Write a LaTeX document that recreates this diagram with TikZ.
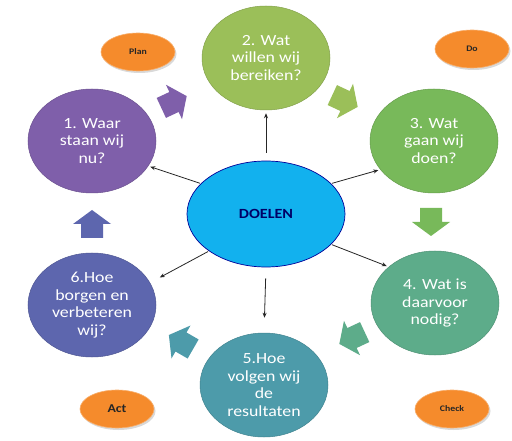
\documentclass[tikz,border=0pt]{standalone}
\usepackage{fontspec}
\setmainfont{Carlito}[FakeStretch=1.15]
\usetikzlibrary{shapes.geometric,arrows.meta,shadows}
\definecolor{cA}{HTML}{7F5FAA}
\definecolor{cB}{HTML}{9BBF59}
\definecolor{cC}{HTML}{78B95A}
\definecolor{cD}{HTML}{5DAC8A}
\definecolor{cE}{HTML}{4D9BAA}
\definecolor{cF}{HTML}{5D66AE}
\definecolor{cDoel}{HTML}{12B1EE}
\definecolor{cOr}{HTML}{F58B2C}
\begin{document}
\begin{tikzpicture}[x=1pt,y=-1pt,
  circ/.style={ellipse, fill=#1, draw=#1!85!black, line width=0.5pt,
    minimum width=128pt, minimum height=104pt, inner sep=0pt,
    text=white, font=\fontsize{15.5}{17.5}\selectfont, align=center},
  tag/.style={ellipse, fill=cOr, draw=cOr!70!white, line width=0.6pt,
    minimum width=74pt, minimum height=38pt, inner sep=0pt,
    text=black!85, font=\bfseries\fontsize{8.5}{10}\selectfont,
    drop shadow={shadow xshift=1.5pt, shadow yshift=-2pt, fill=gray!30, opacity=1}},
  conn/.style={draw=black!85, line width=0.8pt, -{Stealth[length=5pt,width=4pt]}},
  barrow/.pic={\fill[#1] (-14,-11) -- (0,-11) -- (0,-19) -- (14,0) -- (0,19) -- (0,11) -- (-14,11) -- cycle;}
]
\useasboundingbox (0,0) rectangle (512,441);
\fill[white] (0,0) rectangle (512,441);

% central
\node[ellipse, fill=cDoel, draw=blue!60!black, line width=0.7pt,
  minimum width=158pt, minimum height=106pt, inner sep=0pt,
  text=blue!40!black, font=\bfseries\fontsize{14}{16}\selectfont] (D) at (266,214) {DOELEN};

% circles
\node[circ=cB] (c2) at (266,58) {2. Wat\\willen wij\\bereiken?};
\node[circ=cA] (c1) at (92,141) {1. Waar\\staan wij\\nu?};
\node[circ=cC] (c3) at (434,141) {3. Wat\\gaan wij\\doen?};
\node[circ=cD] (c4) at (435,303) {4. Wat is\\daarvoor\\nodig?};
\node[circ=cE] (c5) at (264,385) {5.Hoe\\volgen wij\\de\\resultaten};
\node[circ=cF] (c6) at (92,305) {6.Hoe\\borgen en\\verbeteren\\wij?};

% PDCA tags
\node[tag] (plan) at (138,52) {Plan};
\node[tag] (do) at (472,49) {Do};
\node[tag, font=\bfseries\fontsize{12}{14}\selectfont] (act) at (117,409) {Act};
\node[tag] (check) at (452,409) {Check};

% block arrows
\pic[rotate=25] at (174,102) {barrow=cA};
\pic[rotate=-25] at (345,101) {barrow=cB};
\pic[rotate=-90] at (431,222) {barrow=cC};
\pic[rotate=205] at (352,338) {barrow=cD};
\pic[rotate=150] at (181,342) {barrow=cE};
\pic[rotate=90] at (92,224) {barrow=cF};

% connectors
\draw[conn, shorten <=8pt, shorten >=3pt] (D.90) -- (c2.270);
\draw[conn, shorten <=1pt, shorten >=2pt] (D.25) -- (c3.208);
\draw[conn, shorten <=1pt, shorten >=2pt] (D.-25) -- (c4.142);
\draw[conn, shorten <=11pt, shorten >=15pt] (D.270) -- (c5.90);
\draw[conn, shorten <=1pt, shorten >=11pt] (D.213) -- (c6.21);
\draw[conn, shorten <=1pt, shorten >=2pt] (D.155) -- (c1.-24);
\end{tikzpicture}
\end{document}
